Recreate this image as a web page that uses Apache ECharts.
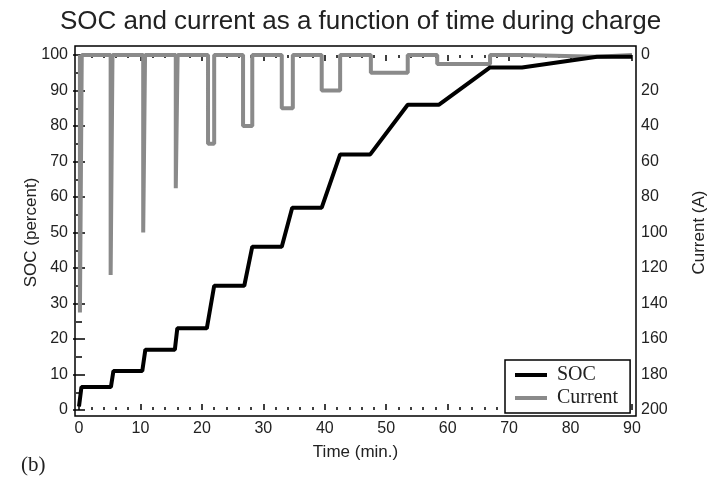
<!DOCTYPE html>
<html>
<head>
<meta charset="utf-8">
<script src="https://cdn.jsdelivr.net/npm/echarts@6/dist/echarts.min.js"></script>
<style>
  html, body { margin: 0; padding: 0; background: #fff; }
  #chart { width: 721px; height: 480px; }
</style>
</head>
<body>
<div id="chart"></div>
<script>
// SOC curve (time in min, SOC in percent)
const socTime = [0, 0.4, 5.2, 5.6, 10.3, 10.8, 15.6, 16.0, 20.8, 22.0, 26.9, 28.2, 33.0, 34.7, 39.5, 42.5, 47.4, 53.5, 58.6, 66.9, 72.1, 84.3, 90]
const socValue = [1, 6.5, 6.5, 11, 11, 17, 17, 23, 23, 35, 35, 46, 46, 57, 57, 72, 72, 86, 86, 96.5, 96.5, 99.5, 99.5]

// current pulses: start / end time (min) and amplitude (A)
const pulseStart = [0.15, 5.15, 10.45, 15.75, 21.0, 26.7, 33.0, 39.5, 47.5, 58.3, 72.1]
const pulseEnd = [0.45, 5.45, 10.75, 16.05, 22.0, 28.2, 34.8, 42.5, 53.5, 66.9, 84.3]
const pulseAmp = [145, 124, 100, 75, 50, 40, 30, 20, 10, 5, 1]
const endTime = 90

const xTicks = { min: 0, max: 90, interval: 10 }
const socTicks = { min: 0, max: 100, interval: 10 }
const curTicks = { min: 0, max: 200, interval: 20 }

const socData = socTime.map((t, i) => [t, socValue[i]])
const curData = []
pulseStart.forEach((s, i) => {
  curData.push([s, 0], [s, pulseAmp[i]], [pulseEnd[i], pulseAmp[i]], [pulseEnd[i], 0])
})
curData.push([endTime, 0])

const textColor = '#222'
const sans = 'Liberation Sans'
const serif = 'Liberation Serif'

const chart = echarts.init(document.getElementById('chart'))
const tickCommon = {
  axisLine: { show: false },
  axisTick: { show: true, inside: true, length: 6, lineStyle: { color: '#000', width: 1.5 } },
  minorTick: { show: true, length: 3, lineStyle: { color: '#000', width: 1.5 } },
  splitLine: { show: false },
  axisLabel: { color: textColor, fontSize: 16, fontFamily: sans }
}

const options = {
  animation: false,
  title: [
    {
      text: 'SOC and current as a function of time during charge',
      left: 'center',
      top: 4,
      textStyle: { color: textColor, fontSize: 26, fontWeight: 'normal', fontFamily: sans }
    },
    {
      text: '(b)',
      left: 16,
      top: 450,
      textStyle: { color: textColor, fontSize: 21, fontWeight: 'normal', fontFamily: serif }
    }
  ],
  legend: {
    orient: 'vertical',
    left: 505,
    top: 360,
    data: ['SOC', 'Current'],
    icon: 'rect',
    itemWidth: 32,
    itemHeight: 4,
    itemGap: 3,
    padding: [5, 12, 5, 10],
    borderColor: '#000',
    borderWidth: 1.5,
    backgroundColor: '#fff',
    textStyle: { color: textColor, fontSize: 20, fontFamily: serif, padding: [0, 0, 0, 5] }
  },
  grid: [
    { left: 79, right: 89, top: 55, bottom: 70 },
    { left: 75, right: 85, top: 46, bottom: 64, show: true, borderColor: '#000', borderWidth: 1.5, backgroundColor: 'transparent' }
  ],
  xAxis: [
    {
      ...tickCommon,
      type: 'value',
      gridIndex: 0,
      ...xTicks,
      offset: 6,
      minorTick: { ...tickCommon.minorTick, splitNumber: 5 },
      axisLabel: { ...tickCommon.axisLabel, margin: 5 },
      name: 'Time (min.)',
      nameLocation: 'middle',
      nameGap: 28,
      nameTextStyle: { color: textColor, fontSize: 17, fontFamily: sans }
    },
    {
      ...tickCommon,
      type: 'value',
      gridIndex: 0,
      position: 'top',
      ...xTicks,
      offset: 9,
      minorTick: { ...tickCommon.minorTick, splitNumber: 5 },
      axisLabel: { show: false }
    },
    { type: 'value', gridIndex: 1, show: false, min: 0, max: 1 }
  ],
  yAxis: [
    {
      ...tickCommon,
      type: 'value',
      gridIndex: 0,
      position: 'left',
      ...socTicks,
      offset: 4,
      minorTick: { ...tickCommon.minorTick, splitNumber: 2 },
      axisLabel: { ...tickCommon.axisLabel, margin: 7 },
      name: 'SOC (percent)',
      nameLocation: 'middle',
      nameGap: 35,
      nameMoveOverlap: false,
      nameTextStyle: { color: textColor, fontSize: 17, fontFamily: sans }
    },
    {
      ...tickCommon,
      type: 'value',
      gridIndex: 0,
      position: 'right',
      inverse: true,
      ...curTicks,
      offset: 4,
      minorTick: { ...tickCommon.minorTick, splitNumber: 2 },
      axisLabel: { ...tickCommon.axisLabel, margin: 5 },
      name: 'Current (A)',
      nameLocation: 'middle',
      nameGap: 55,
      nameRotate: 90,
      nameTextStyle: { color: textColor, fontSize: 17, fontFamily: sans }
    },
    { type: 'value', gridIndex: 1, show: false, min: 0, max: 1 }
  ],
  series: [
    {
      name: 'SOC',
      type: 'line',
      xAxisIndex: 0,
      yAxisIndex: 0,
      data: socData,
      symbol: 'none',
      z: 3,
      itemStyle: { color: '#000' },
      lineStyle: { color: '#000', width: 4 }
    },
    {
      name: 'Current',
      type: 'line',
      xAxisIndex: 0,
      yAxisIndex: 1,
      data: curData,
      symbol: 'none',
      z: 2,
      itemStyle: { color: '#8a8a8a' },
      lineStyle: { color: '#8a8a8a', width: 4 }
    }
  ]
}
chart.setOption(options)
</script>
</body>
</html>
